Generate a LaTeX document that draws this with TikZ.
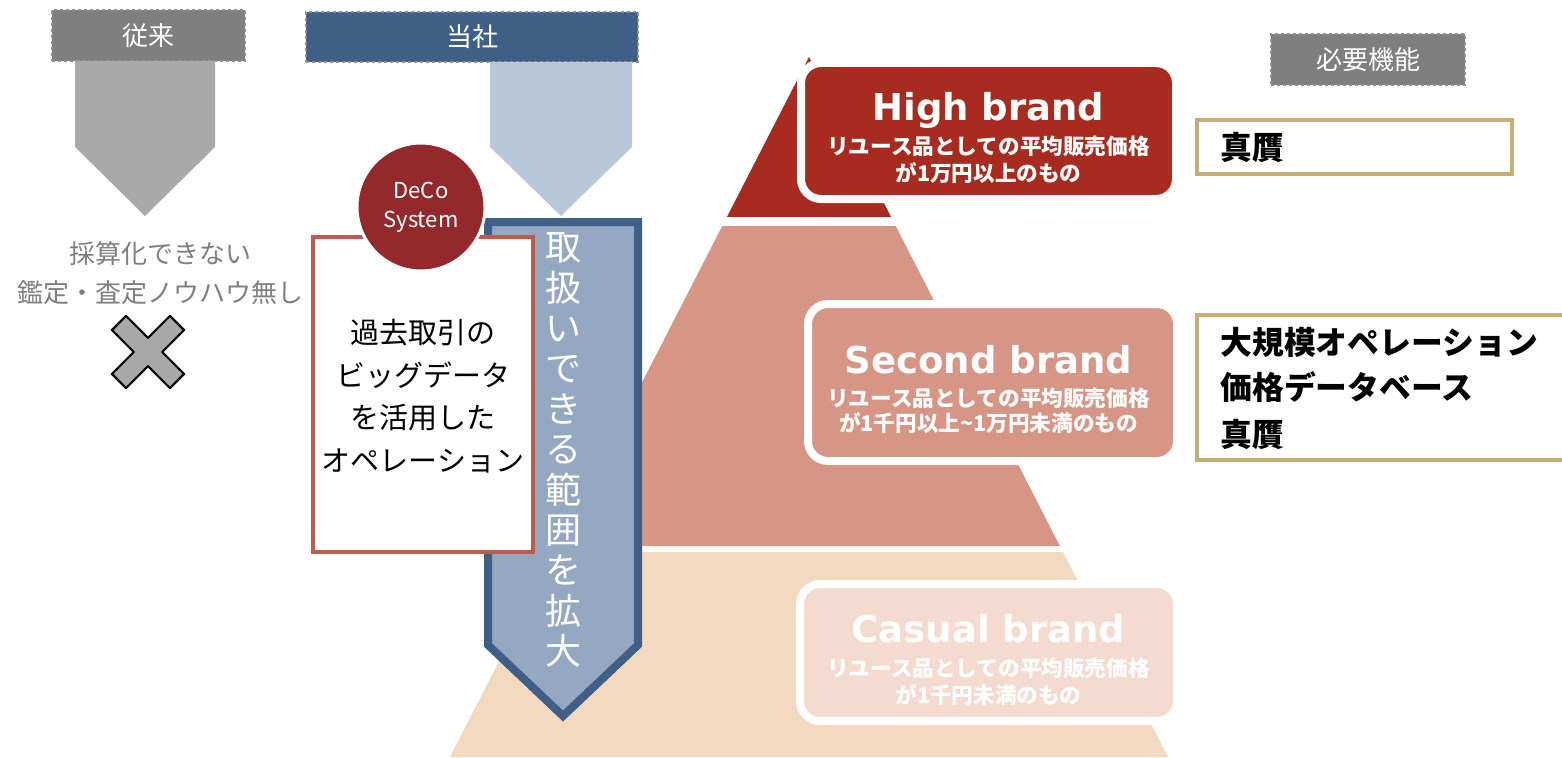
\documentclass[tikz,border=0pt]{standalone}
\usepackage{fontspec}
\setmainfont{Noto Sans CJK JP}
\newfontfamily\lat{DejaVu Sans}
\usetikzlibrary{calc}
\definecolor{lblgray}{HTML}{7F7F7F}
\definecolor{dashgray}{HTML}{8F8F8F}
\definecolor{arrgray}{HTML}{A9A9A9}
\definecolor{navy}{HTML}{3F5F86}
\definecolor{ltblue}{HTML}{B9C7DA}
\definecolor{midblue}{HTML}{95A8C1}
\definecolor{deco}{HTML}{93282D}
\definecolor{redline}{HTML}{C05A4E}
\definecolor{hbred}{HTML}{A82B1F}
\definecolor{sbpink}{HTML}{D69585}
\definecolor{cbpeach}{HTML}{F4D9C1}
\definecolor{cbbox}{HTML}{F5DBCF}
\definecolor{tan}{HTML}{C3AE74}
\tikzset{
  hdrbox/.style={draw=dashgray, dashed, line width=1.5pt, inner sep=0pt, text=white, font=\fontsize{26}{30}\selectfont},
  brandbox/.style={draw=white, line width=8pt, rounded corners=20pt, inner sep=0pt},
  brandtitle/.style={text=white, font=\lat\bfseries\fontsize{37}{40}\selectfont, anchor=base},
  brandsub/.style={text=white, font=\bfseries\fontsize{21.6}{25}\selectfont},
  needbox/.style={draw=tan, line width=4pt, inner sep=0pt},
  needtext/.style={anchor=west, font=\bfseries\fontsize{31.8}{36}\selectfont, text=black},
  graytext/.style={text=lblgray, font=\fontsize{26}{30}\selectfont},
  boxtext/.style={text=black, font=\fontsize{29}{33}\selectfont}
}
\begin{document}
\begin{tikzpicture}[x=1pt,y=-1pt]
\useasboundingbox (0,0) rectangle (1562,757);

% ---------- pyramid ----------
\coordinate (apex) at (809,57);
\fill[hbred]   (apex) -- (891.1,217) -- (726.9,217) -- cycle;
\fill[sbpink]  (722.3,226) -- (895.7,226) -- (1059.9,546) -- (558.1,546) -- cycle;
\fill[cbpeach] (555.1,552) -- (1062.9,552) -- (1168.1,757) -- (449.9,757) -- cycle;

% ---------- brand boxes ----------
\node (high) [brandbox, fill=hbred, minimum width=375pt, minimum height=136pt] at (988.5,131) {};
\node (highT) [brandtitle] at (988.5,121) {High brand};
\node (highS1) [brandsub] at (988.5,146) {リユース品としての平均販売価格};
\node (highS2) [brandsub] at (988.5,173) {が1万円以上のもの};

\node (second) [brandbox, fill=sbpink, minimum width=369pt, minimum height=157pt] at (992.5,382.5) {};
\node (secondT) [brandtitle] at (988.5,373) {Second brand};
\node (secondS1) [brandsub] at (988.5,398) {リユース品としての平均販売価格};
\node (secondS2) [brandsub] at (988.5,423) {が1千円以上\textasciitilde 1万円未満のもの};

\node (casual) [brandbox, fill=cbbox, minimum width=377pt, minimum height=137pt] at (988.5,652.5) {};
\node (casualT) [brandtitle] at (988.5,642) {Casual brand};
\node (casualS1) [brandsub] at (988.5,668) {リユース品としての平均販売価格};
\node (casualS2) [brandsub] at (988.5,695) {が1千円未満のもの};

% ---------- left: conventional ----------
\node (conv) [hdrbox, fill=lblgray, minimum width=193pt, minimum height=51pt] at (148.5,35.5) {従来};
\fill[arrgray] (75,61) -- (215,61) -- (215,147) -- (145,216) -- (75,147) -- cycle;
\node (cant1) [graytext] at (160,254) {採算化できない};
\node (cant2) [graytext] at (160,293) {鑑定・査定ノウハウ無し};
\coordinate (xc) at (148,352);
\draw[fill=arrgray, draw=black, line width=2.2pt, line join=round]
  ($(xc)+(31.3:42.2)$) -- ($(xc)+(58.7:42.2)$) -- ($(xc)+(90:14.1)$) --
  ($(xc)+(121.3:42.2)$) -- ($(xc)+(148.7:42.2)$) -- ($(xc)+(180:14.1)$) --
  ($(xc)+(211.3:42.2)$) -- ($(xc)+(238.7:42.2)$) -- ($(xc)+(270:14.1)$) --
  ($(xc)+(301.3:42.2)$) -- ($(xc)+(328.7:42.2)$) -- ($(xc)+(0:14.1)$) -- cycle;

% ---------- our company ----------
\node (ours) [hdrbox, fill=navy, minimum width=332pt, minimum height=50pt] at (472,37) {当社};
\fill[ltblue] (490,62) -- (632,62) -- (632,147) -- (561,216) -- (490,147) -- cycle;

% big arrow
\draw[fill=midblue, draw=navy, line width=8pt, line join=miter]
  (488,222) -- (638,222) -- (638,645) -- (563,716) -- (488,645) -- cycle;
\node (range) [text=white, align=center, font=\fontsize{36}{40.4}\selectfont] at (563,450)
  {取\\扱\\い\\で\\き\\る\\範\\囲\\を\\拡\\大};

% white box
\node (bigdata) [draw=redline, line width=4pt, fill=white, minimum width=220pt, minimum height=315pt, inner sep=0pt] at (423,394.5) {};
\node (bdtext) [boxtext, align=center, font=\fontsize{29}{42.5}\selectfont] at (423,396)
  {過去取引の\\ビッグデータ\\を活用した\\オペレーション};

% DeCo circle
\node (decosys) [circle, fill=deco, draw=white, line width=3pt, minimum size=128pt, inner sep=0pt,
  text=white, align=center, font=\fontsize{22}{29}\selectfont] at (421,207) {DeCo\\System};

% ---------- right: required functions ----------
\node (need) [hdrbox, fill=lblgray, minimum width=194pt, minimum height=51pt] at (1368,59.5) {必要機能};
\node (need1) [needbox, minimum width=315pt, minimum height=54pt] at (1354.5,147) {};
\node (need1t) [needtext] at (1217,147) {真贋};
\node (need2) [needbox, minimum width=380pt, minimum height=145pt] at (1387,387.5) {};
\node (need2a) [needtext] at (1217,342) {大規模オペレーション};
\node (need2b) [needtext] at (1217,387) {価格データベース};
\node (need2c) [needtext] at (1217,434) {真贋};
\end{tikzpicture}
\end{document}
